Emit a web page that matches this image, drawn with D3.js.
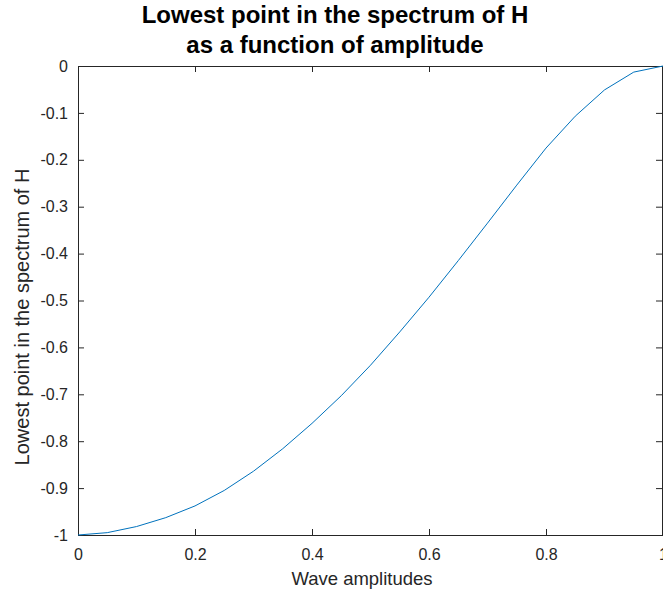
<!DOCTYPE html>
<html>
<head>
<meta charset="utf-8">
<script src="https://cdn.jsdelivr.net/npm/d3@7"></script>
<style>
  body { margin: 0; background: #fff; }
  svg { display: block; font-family: "Liberation Sans", Arial, sans-serif; }
</style>
</head>
<body>
<div id="chart"></div>
<script>
// wave amplitude vs. lowest spectral point
var amplitudes = [0, 0.05, 0.1, 0.15, 0.2, 0.25, 0.3, 0.35, 0.4, 0.45, 0.5,
                  0.55, 0.6, 0.65, 0.7, 0.75, 0.8, 0.85, 0.9, 0.95, 1];
var lowest = [-1, -0.995, -0.982, -0.963, -0.938, -0.905, -0.864, -0.816, -0.762, -0.703, -0.638,
              -0.567, -0.493, -0.415, -0.335, -0.254, -0.175, -0.107, -0.051, -0.013, 0];
var x_ticks = [0, 0.2, 0.4, 0.6, 0.8, 1];
var y_ticks = [0, -0.1, -0.2, -0.3, -0.4, -0.5, -0.6, -0.7, -0.8, -0.9, -1];

var width = 663, height = 595;
var plot_left = 78, plot_right = 663, plot_top = 66, plot_bottom = 535;
var axis_color = "#262626";

var x = d3.scaleLinear().domain([0, 1]).range([plot_left, plot_right]);
var y = d3.scaleLinear().domain([-1, 0]).range([plot_bottom, plot_top]);

var svg = d3.select("#chart")
            .append("svg")
            .attr("width", width)
            .attr("height", height);

function fmt(d) { return String(d); }

function style_axis(g) {
    g.select(".domain").attr("stroke", axis_color);
    g.selectAll(".tick line").attr("stroke", axis_color);
    g.selectAll(".tick text").attr("fill", axis_color)
     .style("font-size", "16px").style("font-family", "Liberation Sans, Arial, sans-serif");
}

svg.append("g")
   .attr("transform", "translate(0," + plot_bottom + ")")
   .call(d3.axisBottom(x).tickValues(x_ticks).tickFormat(fmt)
         .tickSizeInner(-6).tickSizeOuter(0).tickPadding(13.5))
   .call(style_axis);

svg.append("g")
   .attr("transform", "translate(0," + plot_top + ")")
   .call(d3.axisTop(x).tickValues(x_ticks).tickFormat("")
         .tickSizeInner(-6).tickSizeOuter(0))
   .call(style_axis);

svg.append("g")
   .attr("transform", "translate(" + plot_left + ",0)")
   .call(d3.axisLeft(y).tickValues(y_ticks).tickFormat(fmt)
         .tickSizeInner(-6).tickSizeOuter(0).tickPadding(10))
   .call(style_axis);

svg.append("g")
   .attr("transform", "translate(" + (plot_right - 1) + ",0)")
   .call(d3.axisRight(y).tickValues(y_ticks).tickFormat("")
         .tickSizeInner(-6).tickSizeOuter(0))
   .call(style_axis);

var line = d3.line()
             .x(function(d, i) { return x(amplitudes[i]); })
             .y(function(d) { return y(d); });

svg.append("path")
   .datum(lowest)
   .attr("d", line)
   .attr("fill", "none")
   .attr("stroke", "#0072BD")
   .attr("stroke-width", 1);

var title = svg.append("text")
               .attr("text-anchor", "middle")
               .style("font-size", "24px")
               .style("font-weight", "bold")
               .attr("fill", "#000");
title.append("tspan").attr("x", 335).attr("y", 23).text("Lowest point in the spectrum of H");
title.append("tspan").attr("x", 335).attr("y", 53).text("as a function of amplitude");

svg.append("text")
   .attr("x", 362)
   .attr("y", 585)
   .attr("text-anchor", "middle")
   .style("font-size", "18.5px")
   .attr("fill", axis_color)
   .text("Wave amplitudes");

svg.append("text")
   .attr("transform", "translate(29,317) rotate(-90)")
   .attr("text-anchor", "middle")
   .style("font-size", "20px")
   .attr("fill", axis_color)
   .text("Lowest point in the spectrum of H");
</script>
</body>
</html>
